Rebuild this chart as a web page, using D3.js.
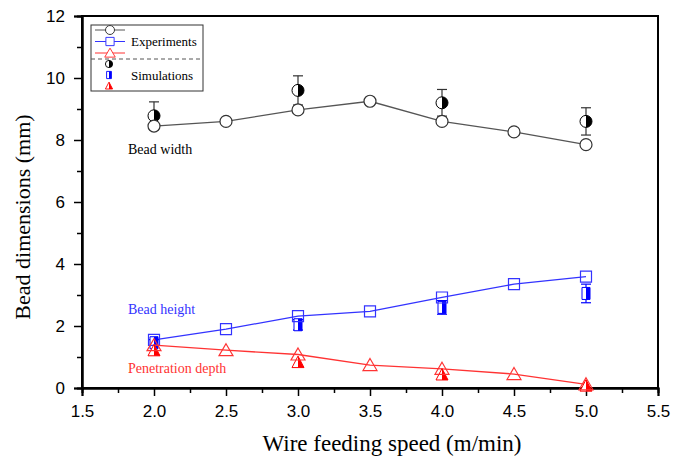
<!DOCTYPE html>
<html><head><meta charset="utf-8">
<script src="https://cdn.jsdelivr.net/npm/d3@7"></script>
<style>body{margin:0;background:#fff}</style>
</head><body>
<svg id="c" width="673" height="464"></svg>
<script>
const speedsExp = [2.0, 2.5, 3.0, 3.5, 4.0, 4.5, 5.0];
const widthExp  = [8.45, 8.6, 8.97, 9.25, 8.6, 8.26, 7.85];
const heightExp = [1.55, 1.9, 2.32, 2.47, 2.92, 3.35, 3.59];
const depthExp  = [1.38, 1.22, 1.08, 0.74, 0.62, 0.45, 0.12];

const speedsSim = [2.0, 3.0, 4.0, 5.0];
const widthSim  = [8.78, 9.6, 9.2, 8.6];
const widthErr  = [0.45, 0.47, 0.43, 0.44];
const heightSim = [1.46, 2.04, 2.6, 3.05];
const heightErr = [0.1, 0.17, 0.22, 0.3];
const depthSim  = [1.2, 0.82, 0.42, 0.06];

const xTicks = [1.5, 2.0, 2.5, 3.0, 3.5, 4.0, 4.5, 5.0, 5.5];
const yTicks = [0, 2, 4, 6, 8, 10, 12];

const SERIF = '"Liberation Serif"';
const SANS = '"Liberation Sans"';

const svg = d3.select("#c");
const L = 82, R = 658, T = 16, B = 388;
const x = d3.scaleLinear().domain([1.5, 5.5]).range([L, R]);
const y = d3.scaleLinear().domain([0, 12]).range([B, T]);

// frame
svg.append("rect").attr("x", L).attr("y", T).attr("width", R - L).attr("height", B - T)
  .attr("fill", "none").attr("stroke", "#000").attr("stroke-width", 2);

// axes
const xAxis = svg.append("g").attr("transform", `translate(0,${B})`)
  .call(d3.axisBottom(x).tickValues(xTicks).tickFormat(d3.format(".1f")).tickSize(8).tickPadding(9));
const xMinor = svg.append("g").attr("transform", `translate(0,${B})`)
  .call(d3.axisBottom(x).tickValues(d3.range(1.75, 5.5, 0.5)).tickFormat("").tickSize(5));
const yAxis = svg.append("g").attr("transform", `translate(${L},0)`)
  .call(d3.axisLeft(y).tickValues(yTicks).tickSize(8).tickPadding(9));
const yMinor = svg.append("g").attr("transform", `translate(${L},0)`)
  .call(d3.axisLeft(y).tickValues([1, 3, 5, 7, 9, 11]).tickFormat("").tickSize(5));
[xAxis, xMinor, yAxis, yMinor].forEach(g => {
  g.style("font-family", SANS).style("font-size", "17px");
  g.select(".domain").attr("stroke-width", 2);
  g.selectAll(".tick line").attr("stroke-width", 1.5);
  g.selectAll("text").style("font-family", SANS).style("font-size", "17px").attr("fill", "#000");
});

function txt(xp, yp, s, size, color) {
  return svg.append("text").attr("x", xp).attr("y", yp).style("font-family", SERIF)
    .style("font-size", size + "px").attr("fill", color || "#000").text(s);
}

txt(392, 451, "Wire feeding speed (m/min)", 23).attr("text-anchor", "middle");
svg.append("text").attr("transform", `translate(30,217) rotate(-90)`).attr("text-anchor", "middle")
  .style("font-family", SERIF).style("font-size", "22px").text("Bead dimensions (mm)");

const series = [
  {exp: widthExp, sim: widthSim, err: widthErr, color: "#555", fill: "#000", shape: "circle"},
  {exp: heightExp, sim: heightSim, err: heightErr, color: "#3333ff", fill: "#0000ff", shape: "square"},
  {exp: depthExp, sim: depthSim, err: null, color: "#ff3333", fill: "#ff0000", shape: "triangle"}
];

function shapePath(shape) {
  if (shape === "circle") return "M0,-6A6,6 0 1,1 0,6A6,6 0 1,1 0,-6Z";
  if (shape === "square") return "M-5.5,-5.5H5.5V5.5H-5.5Z";
  return "M0,-6.5L7,5.5H-7Z";
}
function simShapePath(shape) {
  if (shape === "circle") return "M0,-6A6,6 0 1,1 0,6A6,6 0 1,1 0,-6Z";
  if (shape === "square") return "M-4,-6H4V6H-4Z";
  return "M0,-6.5L6,5H-6Z";
}
function simHalf(shape) {
  if (shape === "circle") return "M0,-6A6,6 0 0,1 0,6Z";
  if (shape === "square") return "M0,-6H4V6H0Z";
  return "M0,-6.5L6,5H0Z";
}

const line = d3.line().x(d => x(d[0])).y(d => y(d[1]));

series.forEach(s => {
  const g = svg.append("g");
  const pts = speedsExp.map((v, i) => [v, s.exp[i]]);
  g.append("path").attr("d", line(pts)).attr("fill", "none").attr("stroke", s.color).attr("stroke-width", 1.3);
  const ec = s.fill === "#000" ? "#333" : s.fill;
  speedsSim.forEach((v, i) => {
    const cx = x(v), cy = y(s.sim[i]);
    if (s.err) {
      const e = s.err[i];
      g.append("line").attr("x1", cx).attr("x2", cx).attr("y1", y(s.sim[i] + e)).attr("y2", y(s.sim[i] - e))
        .attr("stroke", ec).attr("stroke-width", 1.2);
      [s.sim[i] + e, s.sim[i] - e].forEach(yy => g.append("line").attr("x1", cx - 5).attr("x2", cx + 5)
        .attr("y1", y(yy)).attr("y2", y(yy)).attr("stroke", ec).attr("stroke-width", 1.2));
    }
    g.append("path").attr("transform", `translate(${cx},${cy})`).attr("d", simShapePath(s.shape))
      .attr("fill", "#fff").attr("stroke", s.fill).attr("stroke-width", 1);
    g.append("path").attr("transform", `translate(${cx},${cy})`).attr("d", simHalf(s.shape))
      .attr("fill", s.fill);
  });
  pts.forEach(p => {
    g.append("path").attr("transform", `translate(${x(p[0])},${y(p[1])})`).attr("d", shapePath(s.shape))
      .attr("fill", s.shape === "circle" ? "#fff" : "none").attr("stroke", s.shape === "circle" ? "#333" : s.color).attr("stroke-width", 1.2);
  });
});

// annotations
txt(128, 154, "Bead width", 14);
txt(128, 314, "Bead height", 14, "#3333ff");
txt(128, 373, "Penetration depth", 14, "#ff3333");

// legend
const lg = svg.append("g");
lg.append("rect").attr("x", 91).attr("y", 25).attr("width", 112).attr("height", 66)
  .attr("fill", "#fff").attr("stroke", "#333").attr("stroke-width", 1);
lg.append("line").attr("x1", 91).attr("x2", 203).attr("y1", 59).attr("y2", 59)
  .attr("stroke", "#555").attr("stroke-dasharray", "4,3");
const legY = [30, 41.5, 53];
series.forEach((s, i) => {
  lg.append("line").attr("x1", 95).attr("x2", 125).attr("y1", legY[i]).attr("y2", legY[i]).attr("stroke", s.color).attr("stroke-width", 1);
  lg.append("path").attr("transform", `translate(110,${legY[i]}) scale(0.75)`).attr("d", shapePath(s.shape))
    .attr("fill", "#fff").attr("stroke", s.shape === "circle" ? "#333" : s.color).attr("stroke-width", 1.3);
  const sy = [64, 75, 86][i];
  lg.append("path").attr("transform", `translate(109,${sy}) scale(0.6)`).attr("d", simShapePath(s.shape))
    .attr("fill", "#fff").attr("stroke", s.fill).attr("stroke-width", 1.5);
  lg.append("path").attr("transform", `translate(109,${sy}) scale(0.6)`).attr("d", simHalf(s.shape)).attr("fill", s.fill);
});
txt(131, 46, "Experiments", 13);
txt(131, 80, "Simulations", 13);
</script>
</body></html>
